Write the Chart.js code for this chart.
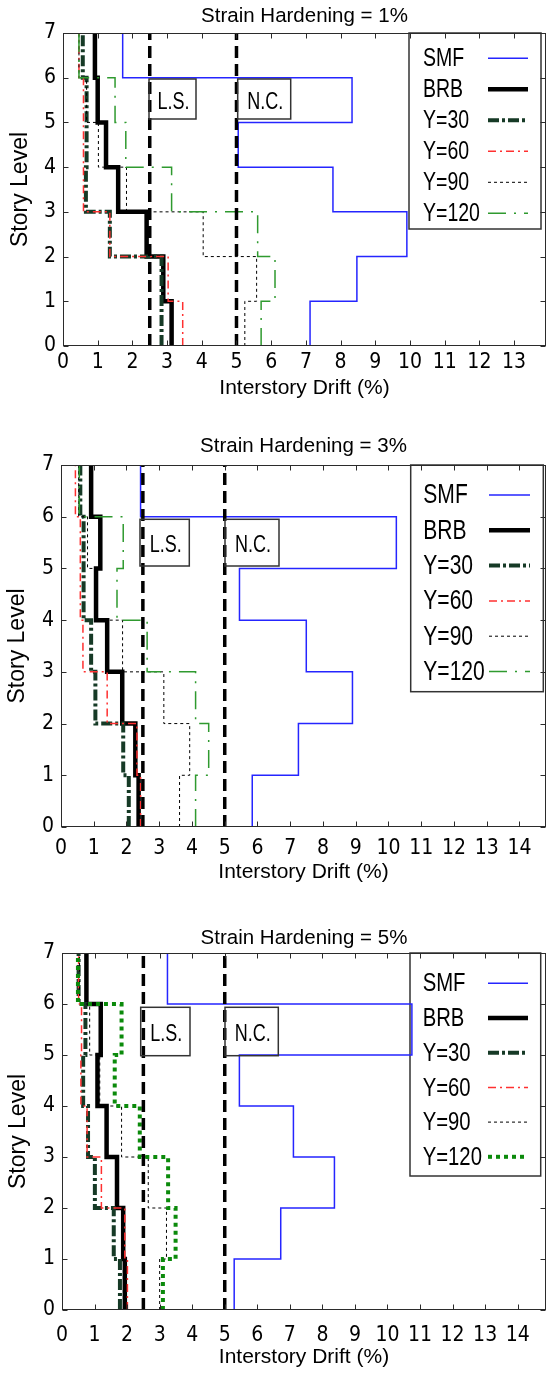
<!DOCTYPE html>
<html>
<head>
<meta charset="utf-8">
<script src="https://cdn.jsdelivr.net/npm/chart.js@4.4.0/dist/chart.umd.min.js"></script>
<style>
  html, body { margin: 0; padding: 0; background: #fff; }
  body { width: 547px; height: 1373px; position: relative; overflow: hidden; }
  canvas { position: absolute; left: 0; }
</style>
</head>
<body>
<canvas id="c1"></canvas>
<canvas id="c2"></canvas>
<canvas id="c3"></canvas>
<script>
const storyLevels = [0, 1, 2, 3, 4, 5, 6, 7];
const seriesNames = ['SMF', 'BRB', 'Y=30', 'Y=60', 'Y=90', 'Y=120'];
const panelTitles = ['Strain Hardening = 1%', 'Strain Hardening = 3%', 'Strain Hardening = 5%'];
const xAxisTitle = 'Interstory Drift (%)';
const yAxisTitle = 'Story Level';
const limitNames = ['L.S.', 'N.C.'];
const limitDrifts = [2.5, 5];

// drift (%) of each story, bottom (level 0-1) to top (level 6-7)
const smf1  = [7.12, 8.47, 9.91, 7.78, 5.05, 8.33, 1.72];
const brb1  = [3.13, 2.89, 2.41, 1.59, 1.24, 1.00, 0.92];
const y30_1 = [2.84, 2.84, 1.35, 0.66, 0.68, 0.68, 0.57];
const y60_1 = [3.45, 3.03, 1.35, 0.59, 0.59, 0.59, 0.46];
const y90_1 = [5.24, 5.58, 4.04, 1.83, 1.02, 0.68, 0.46];
const y120_1 = [5.71, 6.11, 5.61, 3.13, 1.81, 1.50, 0.46];

const smf2  = [5.84, 7.25, 8.90, 7.49, 5.45, 10.24, 2.43];
const brb2  = [2.37, 2.27, 1.87, 1.41, 1.07, 1.20, 0.92];
const y30_2 = [2.07, 1.90, 1.05, 0.92, 0.69, 0.69, 0.59];
const y60_2 = [2.43, 2.32, 1.41, 0.67, 0.59, 0.59, 0.44];
const y90_2 = [3.62, 3.93, 3.14, 1.88, 1.10, 0.81, 0.54];
const y120_2 = [4.11, 4.51, 4.11, 2.63, 1.71, 1.90, 0.56];

const smf3  = [5.29, 6.72, 8.37, 7.11, 5.45, 10.75, 3.24];
const brb3  = [1.93, 1.88, 1.69, 1.37, 1.09, 1.19, 0.75];
const y30_3 = [1.78, 1.59, 1.01, 0.80, 0.65, 0.72, 0.51];
const y60_3 = [2.01, 1.93, 1.21, 0.77, 0.58, 0.60, 0.51];
const y90_3 = [3.00, 3.21, 2.65, 1.83, 1.16, 0.85, 0.54];
const y120_3 = [3.10, 3.49, 3.26, 2.39, 1.62, 1.83, 0.49];

const NARROW = "'DejaVu Sans Condensed', 'Liberation Sans', sans-serif";
const SANS = "'Liberation Sans', Arial, sans-serif";

const lineStyles = [
  { color: '#2525ff', width: 1.5, dash: [] },
  { color: '#000000', width: 4.5, dash: [] },
  { color: '#163a26', width: 4, dash: [11, 3, 3, 3] },
  { color: '#ff3030', width: 1.5, dash: [8, 4, 2, 4] },
  { color: '#000000', width: 1, dash: [3, 3] },
  { color: '#2f9a2f', width: 1.5, dash: [18, 8, 2, 8] }
];
const dottedGreen = { color: '#0b8a0b', width: 4, dash: [4, 4] };

// page layout of the three panels (pixels)
const panels = [
  { id: 'c1', top: 0, height: 402, title: panelTitles[0],
    series: [smf1, brb1, y30_1, y60_1, y90_1, y120_1], xMax: 13.92,
    area: { left: 63, top: 33, bottom: 346 },
    titleY: 16.5, tickY: 363, xTitleY: 388, yTitleX: 21,
    legend: { left: 409, top: 33, right: 541, bottom: 229, textX: 423, s0: 488, s1: 528, row0: 58.3, step: 31, font: 25 },
    boxes: [[149, 79, 196, 119], [237.7, 79, 290.7, 119]] },
  { id: 'c2', top: 428, height: 458, title: panelTitles[1],
    series: [smf2, brb2, y30_2, y60_2, y90_2, y120_2], xMax: 14.81,
    area: { left: 61, top: 465, bottom: 827 },
    titleY: 446.5, tickY: 849, xTitleY: 872, yTitleX: 17.5,
    legend: { left: 410.7, top: 465, right: 543.3, bottom: 691.7, textX: 423.3, s0: 489, s1: 530, row0: 495, step: 35.3, font: 27 },
    boxes: [[140, 519.3, 189.3, 566], [225, 519.3, 279, 566]] },
  { id: 'c3', top: 915, height: 456, title: panelTitles[2],
    series: [smf3, brb3, y30_3, y60_3, y90_3, y120_3], xMax: 14.87, greenDots: true,
    area: { left: 62, top: 953, bottom: 1310 },
    titleY: 938.5, tickY: 1336, xTitleY: 1357, yTitleX: 19,
    legend: { left: 410, top: 953, right: 540.7, bottom: 1176, textX: 422.7, s0: 488, s1: 528, row0: 983.3, step: 34.7, font: 26 },
    boxes: [[140.7, 1007.3, 190, 1055.7], [225, 1007.3, 278.3, 1055.7]] }
];

function steps(vals) {
  const pts = [];
  vals.forEach((v, i) => {
    pts.push({ x: v, y: storyLevels[i] });
    pts.push({ x: v, y: storyLevels[i + 1] });
  });
  return pts;
}

// condensed text: draw a normal face squeezed horizontally
function narrowText(ctx, text, x, y, size, squeeze, align) {
  ctx.save();
  ctx.font = size + 'px ' + SANS;
  ctx.textBaseline = 'middle';
  ctx.textAlign = align;
  ctx.translate(x, y);
  ctx.scale(squeeze, 1);
  ctx.fillText(text, 0, 0);
  ctx.restore();
}

const decorPlugin = {
  id: 'decor',
  beforeDatasetsDraw(chart) {
    const p = chart.options.plugins.decor;
    const lg = p.legend, off = p.top, styles = p.styles;
    const ctx = chart.ctx;
    ctx.save();
    ctx.fillStyle = '#fff';
    ctx.fillRect(lg.left, lg.top - off, lg.right - lg.left, lg.bottom - lg.top);
    ctx.strokeStyle = '#333';
    ctx.lineWidth = 1.5;
    ctx.strokeRect(lg.left, lg.top - off, lg.right - lg.left, lg.bottom - lg.top);
    seriesNames.forEach((name, i) => {
      const yy = lg.row0 + i * lg.step - off;
      ctx.fillStyle = '#000';
      narrowText(ctx, name, lg.textX, yy + 1, lg.font, 0.78, 'left');
      const st = styles[i];
      ctx.beginPath();
      ctx.setLineDash(st.dash);
      ctx.lineWidth = st.width;
      ctx.strokeStyle = st.color;
      ctx.moveTo(lg.s0, yy);
      ctx.lineTo(lg.s1, yy);
      ctx.stroke();
    });
    ctx.restore();
  },
  afterDatasetsDraw(chart) {
    const p = chart.options.plugins.decor;
    const { ctx, chartArea: a, scales: { x, y } } = chart;
    ctx.save();
    ctx.setLineDash([]);
    ctx.strokeStyle = '#2b2b2b';
    ctx.lineWidth = 1;
    const L = Math.round(a.left) + 0.5, R = Math.round(a.right) - 0.5;
    const T = Math.round(a.top) + 0.5, B = Math.round(a.bottom) - 0.5;
    ctx.strokeRect(L, T, R - L, B - T);
    ctx.beginPath();
    x.ticks.forEach(t => {
      const px = Math.round(x.getPixelForValue(t.value)) + 0.5;
      ctx.moveTo(px, B); ctx.lineTo(px, B - 5);
      ctx.moveTo(px, T); ctx.lineTo(px, T + 5);
    });
    y.ticks.forEach(t => {
      const py = Math.round(y.getPixelForValue(t.value)) + 0.5;
      ctx.moveTo(L, py); ctx.lineTo(L + 5, py);
      ctx.moveTo(R, py); ctx.lineTo(R - 5, py);
    });
    ctx.stroke();
    // limit-state labels
    ctx.strokeStyle = '#333';
    ctx.lineWidth = 1.5;
    ctx.fillStyle = '#000';
    p.boxes.forEach((b, i) => {
      const t = b[1] - p.top, bt = b[3] - p.top;
      ctx.strokeRect(b[0], t, b[2] - b[0], bt - t);
      narrowText(ctx, limitNames[i], (b[0] + b[2]) / 2 + 1, (t + bt) / 2 + 3, 24, 0.75, 'center');
    });
    ctx.restore();
  }
};

panels.forEach(p => {
  const cv = document.getElementById(p.id);
  cv.width = 547;
  cv.height = p.height;
  cv.style.top = p.top + 'px';
  const styles = lineStyles.map((s, i) => (i === 5 && p.greenDots) ? dottedGreen : s);
  const datasets = p.series.map((vals, i) => ({
    label: seriesNames[i],
    data: steps(vals),
    borderColor: styles[i].color,
    borderWidth: styles[i].width,
    borderDash: styles[i].dash,
    borderJoinStyle: 'miter',
    order: 10 - i
  }));
  limitDrifts.forEach((d, i) => {
    datasets.push({
      label: limitNames[i],
      data: [{ x: d, y: storyLevels[0] }, { x: d, y: storyLevels[storyLevels.length - 1] }],
      borderColor: '#000',
      borderWidth: 3.5,
      borderDash: [12, 6],
      order: 0
    });
  });

  const titleLh = 20.5 * 0.5;
  const tPadTop = (p.titleY - p.top) - titleLh / 2;
  const tPadBottom = (p.area.top - p.top) - titleLh - tPadTop;
  const canvasBottom = p.top + p.height;

  new Chart(cv, {
    type: 'line',
    data: { datasets },
    plugins: [decorPlugin],
    options: {
      responsive: false,
      animation: false,
      devicePixelRatio: 1,
      layout: { padding: { left: 0, right: 1, top: 0, bottom: 0 } },
      elements: { point: { radius: 0 }, line: { tension: 0 } },
      plugins: {
        legend: { display: false },
        tooltip: { enabled: false },
        title: {
          display: true, text: p.title, fullSize: false, color: '#000',
          font: { family: SANS, size: 20.5, weight: 'normal', lineHeight: 0.5 },
          padding: { top: tPadTop, bottom: tPadBottom }
        },
        decor: { legend: p.legend, boxes: p.boxes, top: p.top, styles }
      },
      scales: {
        x: {
          type: 'linear', min: 0, max: p.xMax,
          grid: { display: false, drawTicks: false },
          border: { display: false },
          ticks: {
            stepSize: 1, includeBounds: false, autoSkip: false, maxRotation: 0,
            color: '#000', font: { family: NARROW, size: 21, lineHeight: 1.2 },
            padding: p.tickY - p.area.bottom - 12.6
          },
          title: {
            display: true, text: xAxisTitle, color: '#000',
            font: { family: SANS, size: 21, lineHeight: 1 },
            padding: { top: 0, bottom: canvasBottom - p.xTitleY - 10.5 }
          },
          afterFit(s) { s.height = canvasBottom - p.area.bottom; s.paddingLeft = 0; s.paddingRight = 0; }
        },
        y: {
          type: 'linear', min: 0, max: 7,
          grid: { display: false, drawTicks: false },
          border: { display: false },
          ticks: {
            stepSize: 1, color: '#000', padding: 7,
            font: { family: NARROW, size: 21, lineHeight: 1.2 }
          },
          title: {
            display: true, text: yAxisTitle, color: '#000',
            font: { family: SANS, size: 23, lineHeight: 1 },
            padding: { top: p.yTitleX - 11.5, bottom: 0 }
          },
          afterFit(s) { s.width = p.area.left; }
        }
      }
    }
  });
});
</script>
</body>
</html>
